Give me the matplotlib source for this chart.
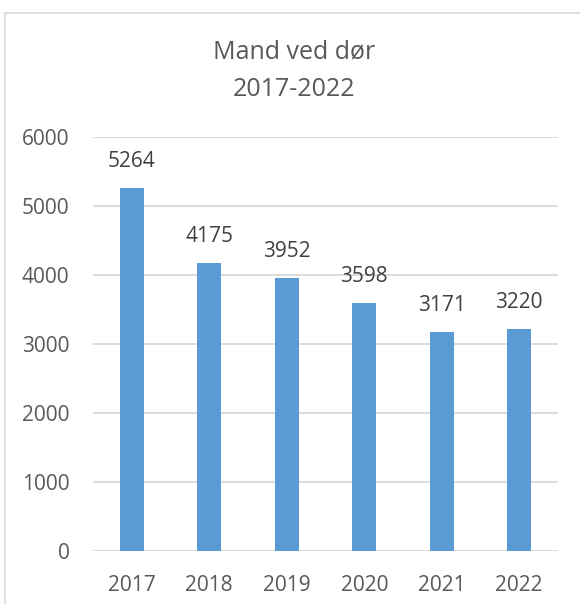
import matplotlib.pyplot as plt
from matplotlib.patches import Rectangle

years = ["2017", "2018", "2019", "2020", "2021", "2022"]
counts = [5264, 4175, 3952, 3598, 3171, 3220]
yticks = [0, 1000, 2000, 3000, 4000, 5000, 6000]

plt.rcParams['font.family'] = ['Open Sans', 'DejaVu Sans']
txt = "#595959"

fig = plt.figure(figsize=(5.8, 6.04), dpi=100)
fig.patches.append(Rectangle((4.5/580, -0.05), 1.2, (604-12.5)/604 + 0.05,
                             transform=fig.transFigure, fill=False,
                             edgecolor="#D9D9D9", lw=1.2))

ax = fig.add_axes([93/580, 53/604, 465/580, 414/604])
x = range(len(years))
bars = ax.bar(x, counts, width=0.31, color="#5B9BD5", zorder=3)
for xi, v in zip(x, counts):
    ax.text(xi, v + 230, str(v), ha="center", va="bottom", fontsize=15, color="#404040")

ax.set_xlim(-0.5, len(years) - 0.5)
ax.set_ylim(0, 6000)
ax.set_yticks(yticks)
ax.set_yticklabels([str(t) for t in yticks], fontsize=15, color=txt)
ax.set_xticks(list(x))
ax.set_xticklabels(years, fontsize=15, color=txt)
ax.tick_params(length=0)
ax.tick_params(axis="y", pad=17)
ax.tick_params(axis="x", pad=17)
for s in ax.spines.values():
    s.set_visible(False)
ax.grid(axis="y", color="#D9D9D9", lw=1.3, zorder=0)
ax.set_axisbelow(True)

fig.text(294/580, 1 - 52/604, "Mand ved dør", ha="center", va="center", fontsize=18, color=txt)
fig.text(294/580, 1 - 90/604, "2017-2022", ha="center", va="center", fontsize=18, color=txt)

fig.savefig("out.png", dpi=100)
